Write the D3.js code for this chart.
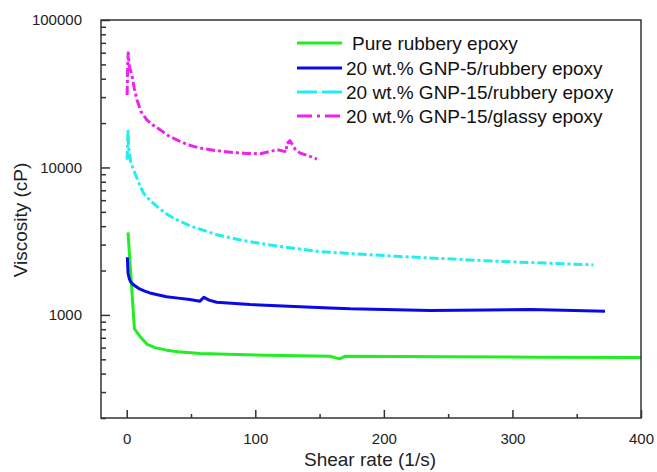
<!DOCTYPE html>
<html>
<head>
<meta charset="utf-8">
<script src="https://cdn.jsdelivr.net/npm/d3@7"></script>
<style>
  html, body { margin: 0; padding: 0; background: #fff; }
  svg { display: block; font-family: "Liberation Sans", Arial, sans-serif; }
</style>
</head>
<body>
<svg id="chart" width="657" height="472"></svg>
<script>
// Shear rate (1/s) vs viscosity (cP) for each formulation
const pureRubbery = [
  [1, 3630], [6, 805], [10, 720], [16, 631], [22, 600], [31, 577], [40, 562], [57, 548],
  [109, 533], [158, 525], [163, 510], [166, 505], [170, 525], [250, 520], [320, 517],
  [400, 514], [410, 513]
];
const gnp5Rubbery = [
  [0.5, 2460], [1, 1930], [2, 1760], [3, 1680], [5, 1610], [8, 1540], [10, 1500],
  [14, 1450], [18, 1410], [24, 1370], [31, 1327], [40, 1300], [49, 1271], [57, 1240],
  [60, 1318], [64, 1260], [70, 1220], [96, 1175], [135, 1135], [158, 1116], [174, 1100],
  [236, 1072], [280, 1080], [314, 1087], [340, 1075], [372, 1059]
];
const gnp15Rubbery = [
  [0.3, 11270], [1, 17990], [1.5, 13870], [3, 11000], [5.3, 9640], [9, 8000], [13, 6710],
  [18, 6000], [23.5, 5450], [30, 4900], [38, 4450], [50, 4000], [70, 3500], [90, 3200],
  [109, 3000], [130, 2830], [148, 2700], [174, 2607], [210, 2496], [250, 2400],
  [288, 2310], [330, 2240], [363, 2183]
];
const gnp15Glassy = [
  [0.3, 31000], [0.8, 50000], [1.2, 60000], [1.8, 50000], [2.5, 47000], [4, 42400],
  [6, 34000], [8, 28730], [11, 24000], [15.7, 21030], [20, 19500], [26, 17990],
  [33, 16300], [41.6, 15000], [48, 14200], [57, 13530], [70, 13000], [83, 12640],
  [93, 12450], [104, 12390], [117, 13180], [122, 12900], [124.5, 12800], [124, 14300],
  [127, 15200], [129, 14200], [131, 13300], [135, 12500], [140, 12100], [148, 11400]
];

const seriesNames = [
  "Pure rubbery epoxy",
  "20 wt.% GNP-5/rubbery epoxy",
  "20 wt.% GNP-15/rubbery epoxy",
  "20 wt.% GNP-15/glassy epoxy"
];
const seriesData = [pureRubbery, gnp5Rubbery, gnp15Rubbery, gnp15Glassy];
const seriesColors = ["#22ee22", "#0a0ae6", "#22eeee", "#ee22ee"];
const seriesDash = [null, null, "9,3,3,3", "9,3,3,3"];
const legendDash = [null, null, "20,5", "15,5,3,5"];

const xTicks = [0, 100, 200, 300, 400];
const xMinorTicks = [50, 150, 250, 350];
const yTicks = [1000, 10000, 100000];

const svg = d3.select("#chart");
const plotLeft = 101, plotRight = 641, plotTop = 20, plotBottom = 418;

const x = d3.scaleLinear().domain([-20, 400]).range([plotLeft, plotRight]);
const y = d3.scaleLog().domain([200, 100000]).range([plotBottom, plotTop]);

svg.append("defs").append("clipPath").attr("id", "plotClip")
  .append("rect").attr("x", plotLeft).attr("y", plotTop)
  .attr("width", plotRight - plotLeft).attr("height", plotBottom - plotTop);

// Series lines
const line = d3.line().x(d => x(d[0])).y(d => y(d[1]));
const plot = svg.append("g").attr("clip-path", "url(#plotClip)");
seriesData.forEach((data, i) => {
  plot.append("path")
    .datum(data)
    .attr("d", line)
    .attr("fill", "none")
    .attr("stroke", seriesColors[i])
    .attr("stroke-width", 3)
    .attr("stroke-linejoin", "round")
    .attr("stroke-dasharray", seriesDash[i]);
});

const axisColor = "#333";

// Frame
svg.append("rect")
  .attr("x", plotLeft).attr("y", plotTop)
  .attr("width", plotRight - plotLeft).attr("height", plotBottom - plotTop)
  .attr("fill", "none").attr("stroke", axisColor).attr("stroke-width", 1.5);

// X axis with inward ticks
const xAxis = svg.append("g").attr("transform", `translate(0,${plotBottom})`)
  .call(d3.axisBottom(x).tickValues(xTicks).tickSizeInner(-8).tickSizeOuter(0).tickPadding(15));
xAxis.select(".domain").remove();
xAxis.selectAll(".tick line").attr("stroke", axisColor).attr("stroke-width", 1.5);
xAxis.selectAll("text").attr("font-size", 15).attr("fill", "#222")
  .attr("font-family", "Liberation Sans, Arial, sans-serif");
const xMinor = svg.append("g").attr("transform", `translate(0,${plotBottom})`)
  .call(d3.axisBottom(x).tickValues(xMinorTicks).tickSizeInner(-4).tickSizeOuter(0).tickFormat(""));
xMinor.select(".domain").remove();
xMinor.selectAll(".tick line").attr("stroke", axisColor).attr("stroke-width", 1.5);

// Y axis (log) with inward ticks
const yMinorTicks = [];
[100, 1000, 10000].forEach(dec => {
  for (let k = 2; k <= 9; k++) {
    const v = dec * k;
    if (v >= 200 && v < 100000) yMinorTicks.push(v);
  }
});
const yAxis = svg.append("g").attr("transform", `translate(${plotLeft},0)`)
  .call(d3.axisLeft(y).tickValues(yTicks).tickFormat(d3.format("d"))
    .tickSizeInner(-9).tickSizeOuter(0).tickPadding(19));
yAxis.select(".domain").remove();
yAxis.selectAll(".tick line").attr("stroke", axisColor).attr("stroke-width", 1.5);
yAxis.selectAll("text").attr("font-size", 15).attr("fill", "#222")
  .attr("font-family", "Liberation Sans, Arial, sans-serif");
const yMinor = svg.append("g").attr("transform", `translate(${plotLeft},0)`)
  .call(d3.axisLeft(y).tickValues(yMinorTicks).tickSizeInner(-5).tickSizeOuter(0).tickFormat(""));
yMinor.select(".domain").remove();
yMinor.selectAll(".tick line").attr("stroke", axisColor).attr("stroke-width", 1.5);

// Axis titles
svg.append("text")
  .attr("x", 370).attr("y", 466)
  .attr("text-anchor", "middle")
  .attr("font-size", 19).attr("fill", "#222")
  .text("Shear rate (1/s)");
svg.append("text")
  .attr("transform", "translate(27,220) rotate(-90)")
  .attr("text-anchor", "middle")
  .attr("font-size", 19).attr("fill", "#222")
  .text("Viscosity (cP)");

// Legend
const legendRowY = [43, 68, 92, 116];
const legendTextX = [352, 346, 346, 346];
const legend = svg.append("g");
seriesNames.forEach((name, i) => {
  legend.append("line")
    .attr("x1", 297).attr("x2", 342)
    .attr("y1", legendRowY[i]).attr("y2", legendRowY[i])
    .attr("stroke", seriesColors[i]).attr("stroke-width", 3)
    .attr("stroke-dasharray", legendDash[i]);
  legend.append("text")
    .attr("x", legendTextX[i]).attr("y", legendRowY[i] + 6.5)
    .attr("font-size", 19).attr("fill", "#111")
    .text(name);
});
</script>
</body>
</html>
